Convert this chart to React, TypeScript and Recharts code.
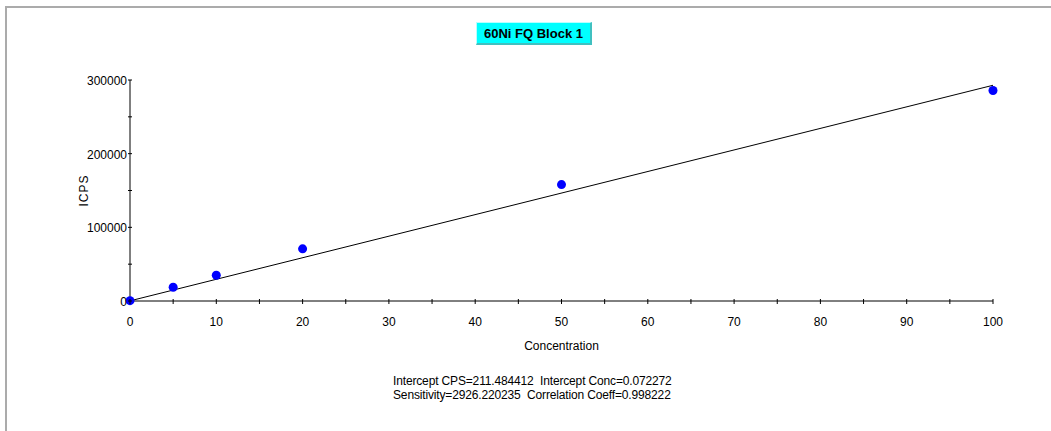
import { ComposedChart, Scatter, Line, XAxis, YAxis, Label } from "recharts"

// calibration standards
const concentration = [0, 5, 10, 20, 50, 100]
const icps = [500, 18700, 35000, 70800, 158000, 285700]

// fitted line end points
const fitConc = [0, 100]
const fitIcps = [211, 292833]

const xTicks = [0, 5, 10, 15, 20, 25, 30, 35, 40, 45, 50, 55, 60, 65, 70, 75, 80, 85, 90, 95, 100]
const yTicks = [0, 50000, 100000, 150000, 200000, 250000, 300000]

const title = "60Ni FQ Block 1"
const footer = [
  "Intercept CPS=211.484412  Intercept Conc=0.072272",
  "Sensitivity=2926.220235  Correlation Coeff=0.998222",
]

const points = concentration.map((c, i) => ({ x: c, y: icps[i] }))
const fit = fitConc.map((c, i) => ({ x: c, y: fitIcps[i] }))

const FONT = '"Liberation Sans", Arial, sans-serif'

const XTick = (props: any) => {
  const { x, y, payload } = props
  const major = payload.value % 10 === 0
  return (
    <g>
      <line x1={x} x2={x} y1={y - 2} y2={y + 3} stroke="#000" />
      {major && (
        <text x={x} y={y + 25} textAnchor="middle" fontSize={12} fill="#000" fontFamily={FONT}>
          {payload.value}
        </text>
      )}
    </g>
  )
}

const YTick = (props: any) => {
  const { x, y, payload } = props
  const major = payload.value % 100000 === 0
  return (
    <g>
      <line x1={x - 2} x2={x + 2} y1={y} y2={y} stroke="#000" />
      {major && (
        <text x={x - 3} y={y + 5} textAnchor="end" fontSize={12} fill="#000" fontFamily={FONT}>
          {payload.value}
        </text>
      )}
    </g>
  )
}

const Dot = (props: any) => {
  const { cx, cy } = props
  return <circle cx={cx} cy={cy} r={4.5} fill="#0000ff" />
}

const YLabel = (props: any) => {
  const { viewBox } = props
  const cx = 84
  const cy = viewBox.y + viewBox.height / 2
  return (
    <text
      x={cx}
      y={cy}
      transform={`rotate(-90 ${cx} ${cy})`}
      textAnchor="middle"
      dominantBaseline="central"
      fontSize={12}
      fill="#000"
      fontFamily={FONT}
      letterSpacing={1}
    >
      ICPS
    </text>
  )
}

export default function App() {
  return (
    <div style={{ position: "relative", width: 1051, height: 431, background: "#fff" }}>
      <style>{`body{margin:0}`}</style>
      <div
        style={{
          position: "absolute",
          left: 5,
          top: 6,
          right: -10,
          bottom: -10,
          borderTop: "2px solid #ababab",
          borderLeft: "2px solid #ababab",
        }}
      />
      <ComposedChart
        width={1051}
        height={431}
        margin={{ top: 80, right: 58, bottom: 100, left: 0 }}
        style={{ position: "absolute", left: 0, top: 0 }}
      >
        <XAxis
          dataKey="x"
          type="number"
          domain={[0, 100]}
          ticks={xTicks}
          interval={0}
          tick={<XTick />}
          tickLine={false}
          tickSize={0}
          tickMargin={0}
          height={30}
          stroke="#000"
        >
          <Label value="Concentration" position="insideBottom" offset={-19} fontSize={12} fill="#000" fontFamily={FONT} />
        </XAxis>
        <YAxis
          dataKey="y"
          type="number"
          domain={[0, 300000]}
          ticks={yTicks}
          interval={0}
          tick={<YTick />}
          tickLine={false}
          tickSize={0}
          tickMargin={0}
          width={130}
          stroke="#000"
        >
          <Label content={<YLabel />} />
        </YAxis>
        <Line
          data={fit}
          dataKey="y"
          type="linear"
          stroke="#000"
          strokeWidth={1}
          dot={false}
          activeDot={false}
          isAnimationActive={false}
        />
        <Scatter data={points} dataKey="y" shape={<Dot />} isAnimationActive={false} />
      </ComposedChart>
      <div
        style={{
          position: "absolute",
          left: 476,
          top: 22,
          width: 116,
          height: 23,
          boxSizing: "border-box",
          background: "#00ffff",
          borderTop: "1px solid #b8ffff",
          borderLeft: "1px solid #b8ffff",
          borderBottom: "2px solid #40c0c0",
          borderRight: "2px solid #40c0c0",
          display: "flex",
          alignItems: "center",
          justifyContent: "center",
          fontFamily: FONT,
          fontWeight: "bold",
          fontSize: 13,
          color: "#000",
        }}
      >
        {title}
      </div>
      <div
        style={{
          position: "absolute",
          left: 393,
          top: 374,
          textAlign: "left",
          fontFamily: FONT,
          fontSize: 12,
          lineHeight: "14px",
          letterSpacing: -0.15,
          color: "#000",
          whiteSpace: "pre",
        }}
      >
        {footer.map((l) => (
          <div key={l}>{l}</div>
        ))}
      </div>
    </div>
  )
}
